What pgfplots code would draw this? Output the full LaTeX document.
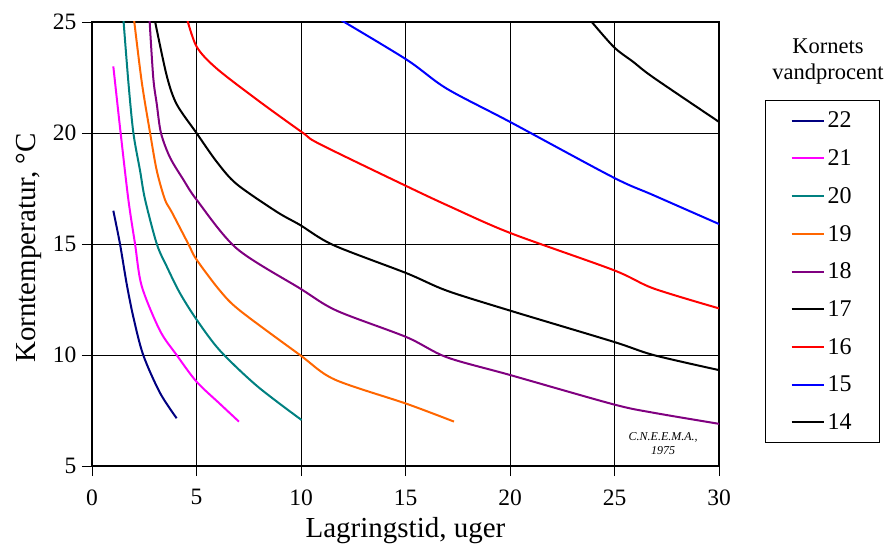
\documentclass[border=0pt]{standalone}
\usepackage{fontspec}
\setmainfont{Liberation Serif}
\usepackage{pgfplots}
\pgfplotsset{compat=1.18}
\definecolor{c22}{RGB}{0,0,128}
\definecolor{c21}{RGB}{255,0,255}
\definecolor{c20}{RGB}{0,128,128}
\definecolor{c19}{RGB}{255,102,0}
\definecolor{c18}{RGB}{128,0,128}
\definecolor{c16}{RGB}{255,0,0}
\definecolor{c15}{RGB}{0,0,255}
\begin{document}
\begin{tikzpicture}[x=1pt,y=1pt]
\useasboundingbox (0,0) rectangle (888,544);
\begin{axis}[
  at={(92pt,78pt)}, anchor=south west,
  scale only axis, width=627pt, height=444pt,
  xmin=0, xmax=30, ymin=5, ymax=25,
  xtick={0,5,...,30}, ytick={5,10,...,25},
  grid=major, major grid style={black, line width=0.7pt},
  axis line style={black, line width=1.6pt},
  tick align=outside, major tick length=10pt,
  tick style={black, line width=0.7pt},
  tick pos=left,
  clip mode=individual,
  /pgf/number format/assume math mode=true,
  ticklabel style={font=\fontsize{23.5}{26}\selectfont},
  xticklabel style={yshift=-10pt},
  yticklabel style={xshift=-2pt},
  xlabel={Lagringstid, uger},
  ylabel={Korntemperatur, °C},
  label style={font=\fontsize{29}{32}\selectfont},
  xlabel style={at={(axis description cs:0.5,-0.1457)}, anchor=center},
  ylabel style={at={(axis description cs:-0.101,0.491)}, anchor=center},
  legend style={at={(1.0734,0.8243)}, anchor=north west, draw=black, line width=1pt,
    font=\fontsize{24}{26}\selectfont, inner xsep=25pt, inner ysep=8.5pt,
    nodes={inner sep=3pt}, row sep=14.3pt},
  legend cell align=left,
  legend image code/.code={\draw[#1] (0pt,0pt) -- (32pt,0pt);},
  every axis plot/.append style={line width=2pt, smooth, tension=0.5, no markers},
]
\addplot[c22] coordinates {(1.02,16.5)(1.34,15.0)(1.66,13.2)(1.98,11.7)(2.45,10.0)(3.25,8.3)(4.05,7.15)};
\addlegendentry{22}
\addplot[c21] coordinates {(1.02,23.0)(1.37,20.0)(1.74,17.0)(2.06,15.0)(2.38,13.1)(3.25,11.1)(4.05,10.0)(5.0,8.8)(6.12,7.8)(7.03,7.0)};
\addlegendentry{21}
\addplot[c20] coordinates {(1.48,25.4)(1.74,22.3)(1.98,20.0)(2.3,18.3)(2.54,17.0)(3.1,15.0)(3.57,14.0)(4.2,12.8)(5.0,11.6)(6.12,10.2)(7.9,8.6)(10.03,7.07)};
\addlegendentry{20}
\addplot[c19] coordinates {(2.0,25.2)(2.38,22.3)(2.78,20.0)(3.1,18.3)(3.49,17.0)(3.81,16.45)(4.61,15.0)(5.0,14.3)(6.12,12.9)(7.08,12.0)(9.95,10.0)(11.6,8.9)(15.06,7.8)(17.32,7.0)};
\addlegendentry{19}
\addplot[c18] coordinates {(2.74,25.3)(2.93,22.5)(3.1,21.3)(3.3,20.0)(3.73,18.9)(4.37,17.9)(5.0,17.0)(6.92,14.8)(9.95,13.0)(11.7,12.0)(15.06,10.8)(16.97,9.9)(20,9.1)(24.94,7.78)(26.86,7.4)(30,6.9)};
\addlegendentry{18}
\addplot[black] coordinates {(2.98,25.2)(3.57,22.6)(4.05,21.3)(5.0,20.0)(5.97,18.7)(6.92,17.7)(8.84,16.45)(9.95,15.86)(11.55,14.95)(15.06,13.68)(16.97,12.9)(20,12.0)(24.94,10.6)(26.86,10.0)(30,9.32)};
\addlegendentry{17}
\addplot[c16] coordinates {(4.5,25.3)(5.0,23.9)(5.97,22.9)(8.04,21.4)(10.1,20.0)(10.9,19.5)(15.06,17.6)(17.1,16.7)(20,15.5)(24.94,13.83)(26.86,13.0)(30,12.1)};
\addlegendentry{16}
\addplot[c15] coordinates {(11.8,25.15)(15.06,23.3)(16.97,22.0)(20,20.5)(24.94,18.0)(26.86,17.2)(30,15.9)};
\addlegendentry{15}
\addplot[black] coordinates {(23.6,25.35)(24.94,23.9)(25.9,23.2)(26.86,22.5)(30,20.5)};
\addlegendentry{14}
\node[font=\fontsize{12}{13.5}\selectfont\itshape, align=center, fill=white, inner sep=1pt] at (axis cs:27.33,6.0) {C.N.E.E.M.A.,\\1975};
\end{axis}
\node[font=\fontsize{22.5}{26.7}\selectfont, align=center] at (828,482.4) {Kornets\\vandprocent};
\end{tikzpicture}
\end{document}
